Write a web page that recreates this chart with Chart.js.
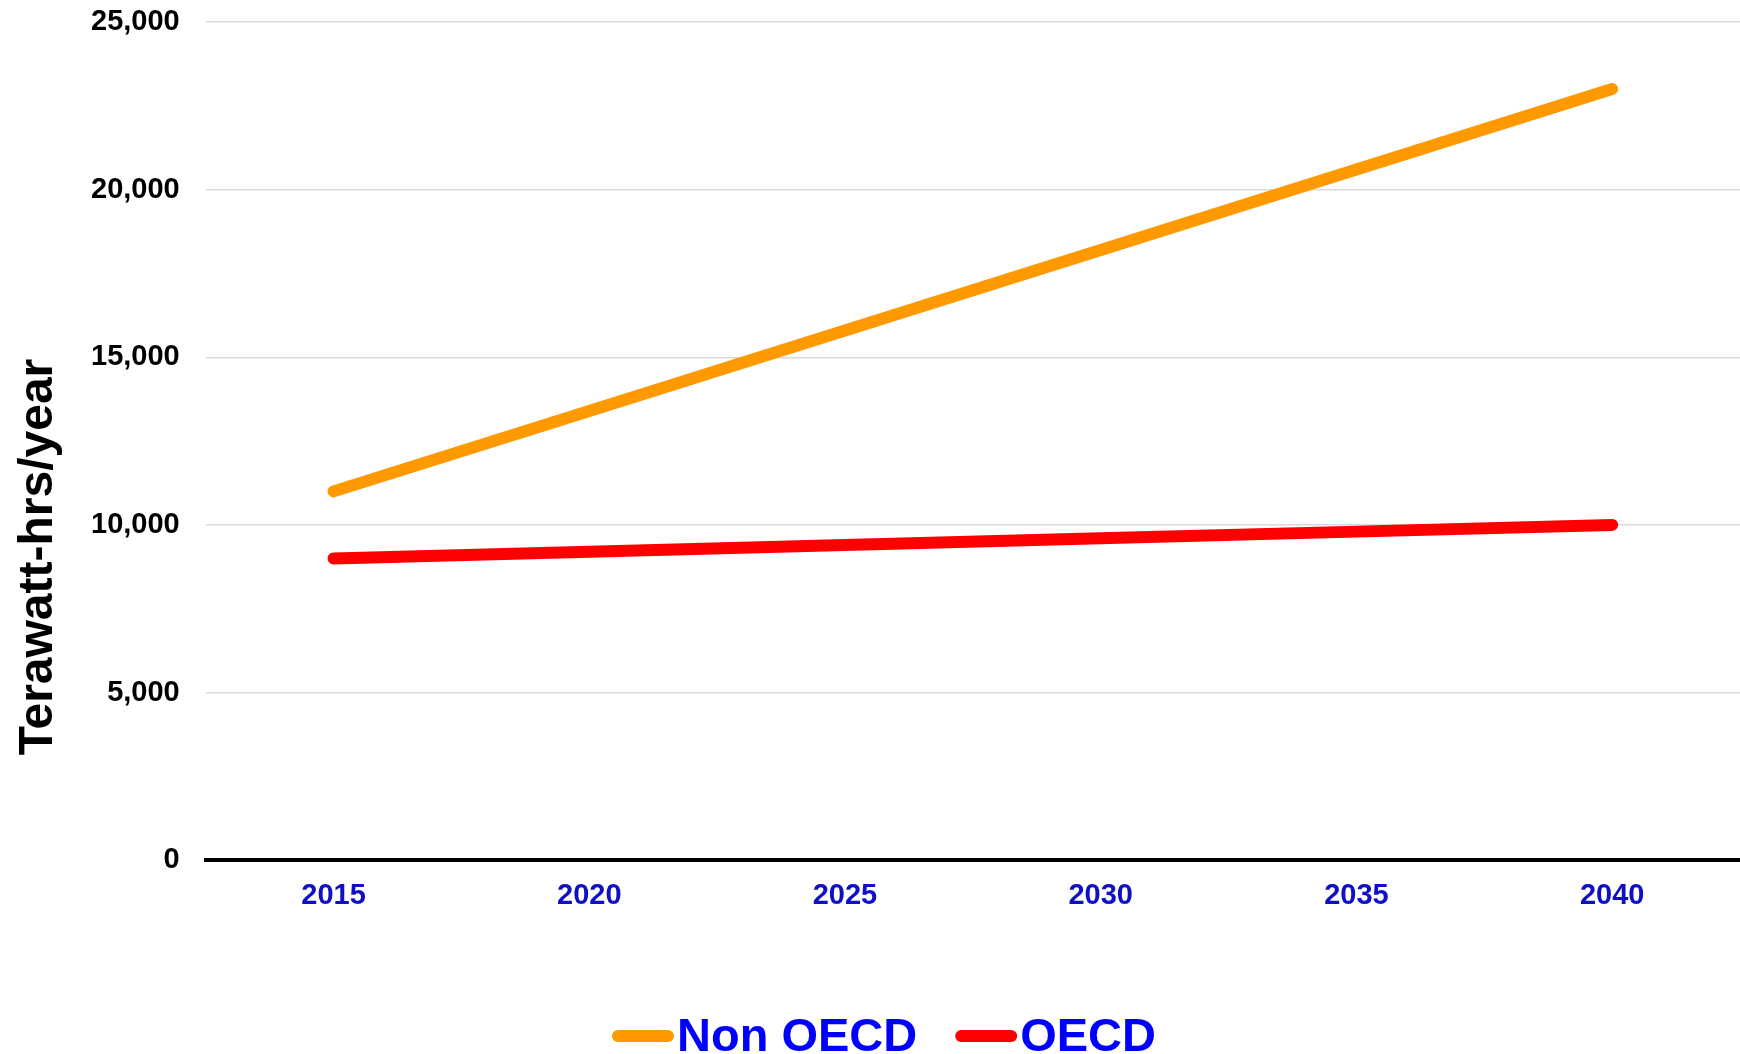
<!DOCTYPE html>
<html>
<head>
<meta charset="utf-8">
<script src="https://cdn.jsdelivr.net/npm/chart.js@4/dist/chart.umd.min.js"></script>
<style>
  html, body { margin: 0; padding: 0; background: #fff; }
  #wrap { width: 1740px; height: 1054px; }
</style>
</head>
<body>
<div id="wrap"><canvas id="grafico"></canvas></div>
<script>
const anos = ['2015', '2020', '2025', '2030', '2035', '2040'];
const nonOecd = [11000, 13400, 15800, 18200, 20600, 23000];
const oecd = [9000, 9200, 9400, 9600, 9800, 10000];
const ticksY = [0, 5000, 10000, 15000, 20000, 25000];

const fonte = '"Liberation Sans", Arial, sans-serif';

// titulo do eixo y centrado na altura do canvas
const tituloEixo = {
    id: 'tituloEixo',
    afterDraw(chart) {
        const ctx = chart.ctx;
        ctx.save();
        ctx.translate(52, 557);
        ctx.rotate(-Math.PI / 2);
        ctx.font = 'bold 48px ' + fonte;
        ctx.fillStyle = '#000';
        ctx.textAlign = 'center';
        ctx.textBaseline = 'alphabetic';
        ctx.fillText('Terawatt-hrs/year', 0, 0);
        ctx.restore();
    }
};

// legenda desenhada a mao (caixa colada ao texto)
const legendaBaixo = {
    id: 'legendaBaixo',
    afterDraw(chart) {
        const ctx = chart.ctx;
        ctx.save();
        ctx.font = 'bold 47px ' + fonte;
        ctx.textBaseline = 'alphabetic';
        let x = 612;
        const y = 1036;
        chart.data.datasets.forEach(ds => {
            ctx.strokeStyle = ds.borderColor;
            ctx.lineWidth = 12;
            ctx.lineCap = 'round';
            ctx.beginPath();
            ctx.moveTo(x + 6, y);
            ctx.lineTo(x + 56, y);
            ctx.stroke();
            ctx.fillStyle = '#0000ff';
            ctx.fillText(ds.label, x + 65, 1051);
            x += 65 + ctx.measureText(ds.label).width + 38;
        });
        ctx.restore();
    }
};

new Chart(document.getElementById('grafico'), {
    type: 'line',
    data: {
        labels: anos,
        datasets: [
            {
                label: 'Non OECD',
                data: nonOecd,
                borderColor: '#ff9900',
                backgroundColor: '#ff9900',
                borderWidth: 12,
                borderCapStyle: 'round',
                borderJoinStyle: 'round',
                pointRadius: 0,
                tension: 0
            },
            {
                label: 'OECD',
                data: oecd,
                borderColor: '#ff0000',
                backgroundColor: '#ff0000',
                borderWidth: 12,
                borderCapStyle: 'round',
                borderJoinStyle: 'round',
                pointRadius: 0,
                tension: 0
            }
        ]
    },
    options: {
        responsive: true,
        maintainAspectRatio: false,
        animation: false,
        layout: {
            padding: { left: 65, right: 0, top: 22, bottom: 123 }
        },
        plugins: {
            legend: { display: false },
            tooltip: { enabled: false }
        },
        scales: {
            x: {
                offset: true,
                grid: { display: false, drawTicks: false },
                border: { display: true, color: '#000', width: 4 },
                ticks: {
                    color: '#0f0fc8',
                    font: { family: fonte, size: 29, weight: 'bold' },
                    padding: 18,
                    maxRotation: 0
                }
            },
            y: {
                min: 0,
                max: 25000,
                afterBuildTicks(scale) {
                    scale.ticks = ticksY.map(v => ({ value: v }));
                },
                afterFit(scale) {
                    scale.paddingTop = 0;
                    scale.paddingBottom = 0;
                },
                grid: { color: '#d9d9d9', lineWidth: 1.5, drawTicks: false },
                border: { display: false },
                ticks: {
                    color: '#000',
                    font: { family: fonte, size: 29, weight: 'bold' },
                    padding: 26,
                    callback: v => v.toLocaleString('en-US')
                }
            }
        }
    },
    plugins: [tituloEixo, legendaBaixo]
});
</script>
</body>
</html>
